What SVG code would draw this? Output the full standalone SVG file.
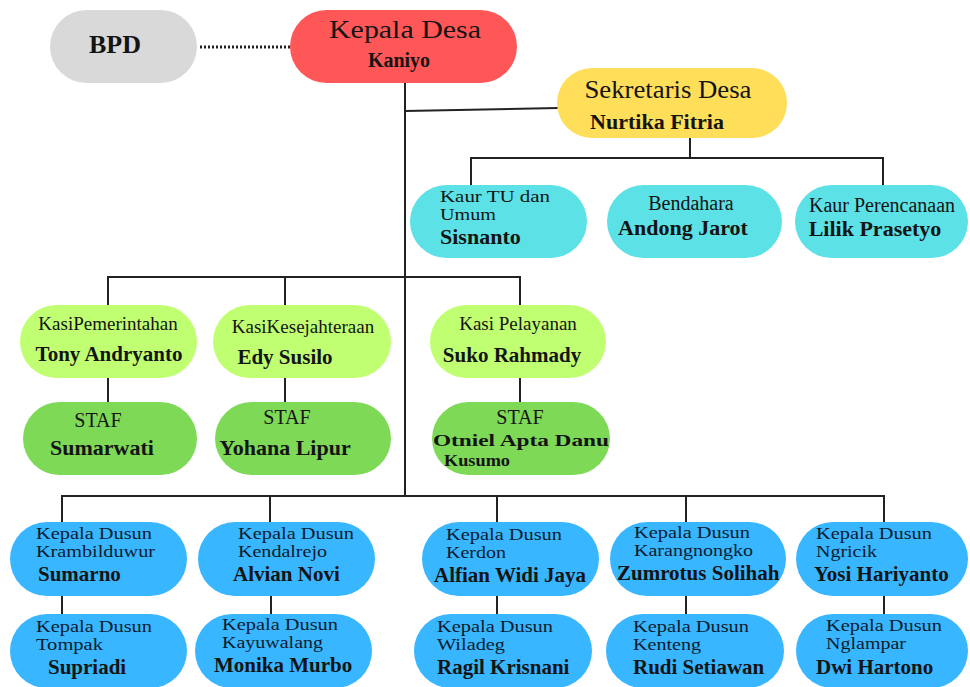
<svg xmlns="http://www.w3.org/2000/svg" width="970" height="687" viewBox="0 0 970 687">
<style>
.bg{fill:#ffffff}
.gray{fill:#D9D9D9}
.red{fill:#FF5757}
.yel{fill:#FFDE59}
.cyan{fill:#5CE1E6}
.lg{fill:#C1FF72}
.g{fill:#7ED957}
.blue{fill:#38B6FF}
text{font-family:"Liberation Serif","Times New Roman",serif;fill:#141414}
.t{font-size:19px}
.s{font-size:20px}
.d{font-size:16px;fill:#0d1b2e}
.b{font-weight:bold;font-size:21px}
.c{text-anchor:middle}
.ln{stroke:#222;stroke-width:2;fill:none}
.dot{stroke:#222;stroke-width:3;stroke-dasharray:2 2;fill:none}
</style>
<rect class="bg" x="0" y="0" width="970" height="687"/>
<g id="connectors">
<line class="dot" x1="200" y1="47" x2="290" y2="47"/>
<line class="ln" x1="405" y1="83" x2="405" y2="497"/>
<line class="ln" x1="405" y1="111" x2="558" y2="108"/>
<polyline class="ln" points="690,138 690,158"/>
<polyline class="ln" points="471,185 471,158 883,158 883,185"/>
<polyline class="ln" points="108,305 108,277 520,277 520,305"/>
<line class="ln" x1="285" y1="277" x2="285" y2="305"/>
<line class="ln" x1="108" y1="378" x2="108" y2="402"/>
<line class="ln" x1="285" y1="378" x2="285" y2="402"/>
<line class="ln" x1="520" y1="378" x2="520" y2="402"/>
<polyline class="ln" points="62,522 62,496 884,496 884,522"/>
<line class="ln" x1="270" y1="496" x2="270" y2="522"/>
<line class="ln" x1="497" y1="496" x2="497" y2="522"/>
<line class="ln" x1="686" y1="496" x2="686" y2="522"/>
<line class="ln" x1="62" y1="596" x2="62" y2="614"/>
<line class="ln" x1="271" y1="596" x2="271" y2="614"/>
<line class="ln" x1="497" y1="596" x2="497" y2="614"/>
<line class="ln" x1="686" y1="596" x2="686" y2="614"/>
<line class="ln" x1="884" y1="596" x2="884" y2="614"/>
</g>
<g id="bpd">
<rect class="gray" x="50" y="10" width="147" height="73" rx="36.5"/>
<text class="b c" x="115" y="53" style="font-size:26px">BPD</text>
</g>
<g id="kepala-desa">
<rect class="red" x="290" y="10" width="227" height="73" rx="36.5"/>
<text class="c" x="405" y="38" style="font-size:26px" textLength="152" lengthAdjust="spacingAndGlyphs">Kepala Desa</text>
<text class="b c" x="399" y="67" style="font-size:20px">Kaniyo</text>
</g>
<g id="sekretaris-desa">
<rect class="yel" x="557" y="68" width="230" height="70" rx="35"/>
<text class="c" x="668" y="98" style="font-size:25px" textLength="167" lengthAdjust="spacingAndGlyphs">Sekretaris Desa</text>
<text class="b c" x="657" y="129" style="font-size:22px">Nurtika Fitria</text>
</g>
<g id="kaur-tu">
<rect class="cyan" x="410" y="185" width="177" height="73" rx="36.5"/>
<text x="440" y="202" style="font-size:16px" textLength="110" lengthAdjust="spacingAndGlyphs">Kaur TU dan</text>
<text x="440" y="220" style="font-size:16px" textLength="56" lengthAdjust="spacingAndGlyphs">Umum</text>
<text class="b" x="440" y="244" style="font-size:22px">Sisnanto</text>
</g>
<g id="bendahara">
<rect class="cyan" x="607" y="185" width="175" height="73" rx="36.5"/>
<text class="s c" x="691" y="210">Bendahara</text>
<text class="b c" x="683" y="235" style="font-size:22px">Andong Jarot</text>
</g>
<g id="kaur-perencanaan">
<rect class="cyan" x="795" y="185" width="173" height="73" rx="36.5"/>
<text class="s c" x="882" y="212">Kaur Perencanaan</text>
<text class="b c" x="875" y="236" style="font-size:22px">Lilik Prasetyo</text>
</g>
<g id="kasi-pemerintahan">
<rect class="lg" x="20" y="305" width="177" height="73" rx="36.5"/>
<text class="t c" x="108" y="330">KasiPemerintahan</text>
<text class="b c" x="109" y="361">Tony Andryanto</text>
</g>
<g id="kasi-kesejahteraan">
<rect class="lg" x="213" y="305" width="178" height="73" rx="36.5"/>
<text class="t c" x="303" y="333">KasiKesejahteraan</text>
<text class="b c" x="285" y="364">Edy Susilo</text>
</g>
<g id="kasi-pelayanan">
<rect class="lg" x="430" y="305" width="176" height="73" rx="36.5"/>
<text class="t c" x="518" y="330">Kasi Pelayanan</text>
<text class="b c" x="512" y="362">Suko Rahmady</text>
</g>
<g id="staf-1">
<rect class="g" x="23" y="402" width="174" height="73" rx="36.5"/>
<text class="s c" x="98" y="427">STAF</text>
<text class="b c" x="102" y="455" style="font-size:22px">Sumarwati</text>
</g>
<g id="staf-2">
<rect class="g" x="215" y="402" width="176" height="73" rx="36.5"/>
<text class="s c" x="287" y="424">STAF</text>
<text class="b c" x="285" y="455" style="font-size:22px">Yohana Lipur</text>
</g>
<g id="staf-3">
<rect class="g" x="432" y="402" width="178" height="73" rx="36.5"/>
<text class="s c" x="520" y="424">STAF</text>
<text class="b c" x="521" y="446" style="font-size:17px" textLength="176" lengthAdjust="spacingAndGlyphs">Otniel Apta Danu</text>
<text class="b" x="444" y="466" style="font-size:17px" textLength="66" lengthAdjust="spacingAndGlyphs">Kusumo</text>
</g>
<g id="dusun-krambilduwur">
<rect class="blue" x="10" y="522" width="177" height="74" rx="37"/>
<text class="d" x="36" y="539" textLength="116" lengthAdjust="spacingAndGlyphs">Kepala Dusun</text>
<text class="d" x="36" y="557" textLength="119" lengthAdjust="spacingAndGlyphs">Krambilduwur</text>
<text class="b" x="38" y="581">Sumarno</text>
</g>
<g id="dusun-kendalrejo">
<rect class="blue" x="198" y="522" width="177" height="74" rx="37"/>
<text class="d" x="238" y="539" textLength="116" lengthAdjust="spacingAndGlyphs">Kepala Dusun</text>
<text class="d" x="238" y="557" textLength="89" lengthAdjust="spacingAndGlyphs">Kendalrejo</text>
<text class="b" x="233" y="581">Alvian Novi</text>
</g>
<g id="dusun-kerdon">
<rect class="blue" x="422" y="522" width="177" height="74" rx="37"/>
<text class="d" x="446" y="540" textLength="116" lengthAdjust="spacingAndGlyphs">Kepala Dusun</text>
<text class="d" x="446" y="558" textLength="60" lengthAdjust="spacingAndGlyphs">Kerdon</text>
<text class="b" x="434" y="582">Alfian Widi Jaya</text>
</g>
<g id="dusun-karangnongko">
<rect class="blue" x="610" y="522" width="176" height="74" rx="37"/>
<text class="d" x="634" y="538" textLength="116" lengthAdjust="spacingAndGlyphs">Kepala Dusun</text>
<text class="d" x="634" y="556" textLength="119" lengthAdjust="spacingAndGlyphs">Karangnongko</text>
<text class="b" x="617" y="580">Zumrotus Solihah</text>
</g>
<g id="dusun-ngricik">
<rect class="blue" x="796" y="522" width="172" height="74" rx="37"/>
<text class="d" x="816" y="539" textLength="116" lengthAdjust="spacingAndGlyphs">Kepala Dusun</text>
<text class="d" x="816" y="557" textLength="61" lengthAdjust="spacingAndGlyphs">Ngricik</text>
<text class="b" x="814" y="581">Yosi Hariyanto</text>
</g>
<g id="dusun-tompak">
<rect class="blue" x="10" y="614" width="177" height="74" rx="37"/>
<text class="d" x="36" y="632" textLength="116" lengthAdjust="spacingAndGlyphs">Kepala Dusun</text>
<text class="d" x="36" y="650" textLength="67" lengthAdjust="spacingAndGlyphs">Tompak</text>
<text class="b" x="48" y="674">Supriadi</text>
</g>
<g id="dusun-kayuwalang">
<rect class="blue" x="195" y="614" width="177" height="74" rx="37"/>
<text class="d" x="222" y="630" textLength="116" lengthAdjust="spacingAndGlyphs">Kepala Dusun</text>
<text class="d" x="222" y="648" textLength="101" lengthAdjust="spacingAndGlyphs">Kayuwalang</text>
<text class="b" x="214" y="672">Monika Murbo</text>
</g>
<g id="dusun-wiladeg">
<rect class="blue" x="414" y="614" width="178" height="74" rx="37"/>
<text class="d" x="437" y="632" textLength="116" lengthAdjust="spacingAndGlyphs">Kepala Dusun</text>
<text class="d" x="437" y="650" textLength="68" lengthAdjust="spacingAndGlyphs">Wiladeg</text>
<text class="b" x="437" y="674">Ragil Krisnani</text>
</g>
<g id="dusun-kenteng">
<rect class="blue" x="606" y="614" width="178" height="74" rx="37"/>
<text class="d" x="633" y="632" textLength="116" lengthAdjust="spacingAndGlyphs">Kepala Dusun</text>
<text class="d" x="633" y="650" textLength="68" lengthAdjust="spacingAndGlyphs">Kenteng</text>
<text class="b" x="633" y="674">Rudi Setiawan</text>
</g>
<g id="dusun-nglampar">
<rect class="blue" x="796" y="614" width="172" height="74" rx="37"/>
<text class="d" x="826" y="631" textLength="116" lengthAdjust="spacingAndGlyphs">Kepala Dusun</text>
<text class="d" x="826" y="649" textLength="80" lengthAdjust="spacingAndGlyphs">Nglampar</text>
<text class="b" x="816" y="674">Dwi Hartono</text>
</g>
</svg>
